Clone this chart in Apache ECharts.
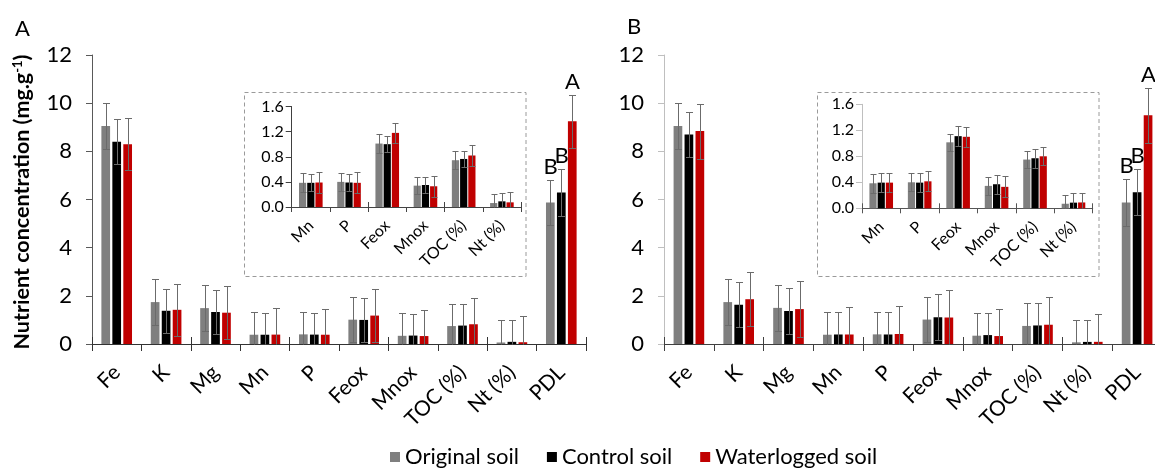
<!DOCTYPE html>
<html>
<head>
<meta charset="utf-8">
<script src="https://cdn.jsdelivr.net/npm/echarts@6/dist/echarts.min.js"></script>
<style>
  html, body { margin: 0; padding: 0; background: #ffffff; }
  #chart { width: 1155px; height: 468px; }
</style>
</head>
<body>
<div id="chart"></div>
<script>
// ---- data -------------------------------------------------------------
const categories = ['Fe', 'K', 'Mg', 'Mn', 'P', 'Feox', 'Mnox', 'TOC (%)', 'Nt (%)', 'PDL'];
const insetFrom = 3, insetTo = 9;               // Mn .. Nt (%) shown enlarged
const insetCategories = categories.slice(insetFrom, insetTo);
const seriesNames = ['Original soil', 'Control soil', 'Waterlogged soil'];
const mainTicks = { min: 0, max: 12, interval: 2 };
const insetTicks = { min: 0, max: 1.6, interval: 0.4 };

// Panel A: means (mg/g, % for TOC and Nt)
const aOriginal    = [9.05, 1.74, 1.49, 0.385, 0.40, 1.01, 0.34, 0.745, 0.063, 5.88];
const aControl     = [8.40, 1.38, 1.33, 0.385, 0.39, 1.00, 0.35, 0.765, 0.090, 6.29];
const aWaterlogged = [8.29, 1.42, 1.30, 0.390, 0.385, 1.18, 0.33, 0.820, 0.074, 9.25];
// Panel A: error bars of the full chart
const aErrOriginal    = [0.95, 0.95, 0.94, 0.93, 0.93, 0.93, 0.93, 0.93, 0.93, 0.95];
const aErrControl     = [0.93, 0.92, 0.91, 0.89, 0.91, 0.90, 0.88, 0.90, 0.89, 0.97];
const aErrWaterlogged = [1.08, 1.09, 1.09, 1.09, 1.08, 1.09, 1.08, 1.09, 1.10, 1.10];
// Panel A: error bars of the enlarged view (Mn .. Nt)
const aInsetErrOriginal    = [0.150, 0.140, 0.150, 0.140, 0.145, 0.137];
const aInsetErrControl     = [0.135, 0.130, 0.130, 0.125, 0.125, 0.130];
const aInsetErrWaterlogged = [0.160, 0.165, 0.160, 0.170, 0.160, 0.166];
const aLetters = [['', '', '', '', '', '', '', '', '', 'B'],
                  ['', '', '', '', '', '', '', '', '', 'B'],
                  ['', '', '', '', '', '', '', '', '', 'A']];

// Panel B
const bOriginal    = [9.05, 1.74, 1.50, 0.385, 0.400, 1.015, 0.345, 0.75, 0.070, 5.88];
const bControl     = [8.70, 1.63, 1.37, 0.395, 0.395, 1.110, 0.370, 0.77, 0.087, 6.30];
const bWaterlogged = [8.84, 1.86, 1.45, 0.395, 0.415, 1.100, 0.330, 0.80, 0.090, 9.50];
const bErrOriginal    = [0.95, 0.95, 0.94, 0.95, 0.94, 0.94, 0.95, 0.95, 0.94, 0.97];
const bErrControl     = [0.95, 0.93, 0.94, 0.94, 0.94, 0.95, 0.93, 0.93, 0.92, 0.95];
const bErrWaterlogged = [1.14, 1.12, 1.15, 1.14, 1.15, 1.15, 1.14, 1.14, 1.14, 1.14];
const bInsetErrOriginal    = [0.145, 0.140, 0.135, 0.135, 0.130, 0.140];
const bInsetErrControl     = [0.145, 0.145, 0.150, 0.150, 0.150, 0.148];
const bInsetErrWaterlogged = [0.145, 0.155, 0.150, 0.160, 0.140, 0.150];
const bLetters = [['', '', '', '', '', '', '', '', '', 'B'],
                  ['', '', '', '', '', '', '', '', '', 'B'],
                  ['', '', '', '', '', '', '', '', '', 'A']];

// ---- styling ------------------------------------------------------------
const FONT = 'Lato';
const colors = ['#7f7f7f', '#000000', '#c00000'];
const ERR_COLOR = '#6b6b6b';
const MAIN_BAR = { w: 8.7, gap: 2.3, cap: 7, barGap: '26%' };
const INSET_BAR = { w: 7.2, gap: 1.0, cap: 6, barGap: '14%' };

const chart = echarts.init(document.getElementById('chart'), null, { renderer: 'canvas' });

function xAxisPair(gridIndex, cats, lineColor, fontSize, margin, tickLen) {
  return [
    {
      type: 'category', gridIndex, data: cats, position: 'bottom',
      axisLine: { show: true, onZero: false, lineStyle: { color: lineColor, width: 1 } },
      axisTick: { show: true, length: tickLen, lineStyle: { color: lineColor } },
      axisLabel: { rotate: 45, interval: 0, fontSize, fontFamily: FONT, color: '#000', margin }
    },
    {
      type: 'category', gridIndex, data: cats, position: 'bottom',
      axisLine: { show: false },
      axisTick: { show: true, inside: true, length: tickLen, lineStyle: { color: lineColor } },
      axisLabel: { show: false }
    }
  ];
}

function yAxisDef(gridIndex, ticks, lineColor, fontSize, margin, decimals) {
  return {
    type: 'value', gridIndex, min: ticks.min, max: ticks.max, interval: ticks.interval,
    axisLine: { show: true, lineStyle: { color: lineColor, width: 1 } },
    axisTick: { show: true, length: 6, lineStyle: { color: lineColor } },
    splitLine: { show: false },
    axisLabel: {
      fontSize, fontFamily: FONT, color: '#000', margin,
      formatter: v => v.toFixed(decimals)
    }
  };
}

function barSeries(xi, yi, values, s, dims) {
  return {
    type: 'bar', name: seriesNames[s], xAxisIndex: xi, yAxisIndex: yi,
    data: values, barWidth: dims.w, barGap: dims.barGap,
    itemStyle: { color: colors[s] }, silent: true, z: 2
  };
}

function errorSeries(xi, yi, values, errs, s, dims, letters) {
  return {
    type: 'custom', xAxisIndex: xi, yAxisIndex: yi, z: 5, silent: true,
    data: values.map((m, i) => [i, m, errs[i]]),
    renderItem(params, api) {
      const i = api.value(0), m = api.value(1), e = api.value(2);
      const off = (s - 1) * (dims.w + dims.gap);
      const top = api.coord([i, m + e]);
      const bot = api.coord([i, Math.max(0, m - e)]);
      const x = Math.round(top[0] + off) + 0.5;
      const yT = Math.round(top[1]) + 0.5;
      const yB = Math.round(bot[1]) + 0.5;
      const c = dims.cap / 2;
      const st = { stroke: ERR_COLOR, lineWidth: 1 };
      const children = [
        { type: 'line', shape: { x1: x, y1: yT, x2: x, y2: yB }, style: st },
        { type: 'line', shape: { x1: x - c, y1: yT, x2: x + c, y2: yT }, style: st }
      ];
      if (m - e > 0) {
        children.push({ type: 'line', shape: { x1: x - c, y1: yB, x2: x + c, y2: yB }, style: st });
      }
      const letter = letters ? letters[s][params.dataIndex] : '';
      if (letter) {
        children.push({
          type: 'text',
          style: {
            text: letter, x: x, y: yT - 3, align: 'center', verticalAlign: 'bottom',
            fontSize: 22, fontFamily: FONT, fill: '#000'
          }
        });
      }
      return { type: 'group', children };
    }
  };
}

// grids: 0 = A full, 1 = A enlarged, 2 = B full, 3 = B enlarged
const grids = [
  { left: 92, top: 55, width: 494, height: 289 },
  { left: 291.7, top: 106.5, width: 229.3, height: 100.5 },
  { left: 664, top: 55, width: 498, height: 289 },
  { left: 862, top: 104.3, width: 230.7, height: 104 }
].map(g => Object.assign({ outerBoundsMode: 'none', containLabel: false }, g));

const xAxes = [
  ...xAxisPair(0, categories, '#333333', 21, 25, 7),
  ...xAxisPair(1, insetCategories, '#444444', 16, 16, 5),
  ...xAxisPair(2, categories, '#404040', 21, 25, 7),
  ...xAxisPair(3, insetCategories, '#555555', 16, 16, 5)
];
const yAxes = [
  yAxisDef(0, mainTicks, '#595959', 22, 20, 0),
  yAxisDef(1, insetTicks, '#404040', 16, 8, 1),
  yAxisDef(2, mainTicks, '#bfbfbf', 22, 20, 0),
  yAxisDef(3, insetTicks, '#bfbfbf', 16, 8, 1)
];

function panelSeries(xMain, yMain, xInset, yInset, means, errs, insetErrs, letters) {
  const out = [];
  means.forEach((vals, s) => {
    out.push(barSeries(xMain, yMain, vals, s, MAIN_BAR));
    out.push(barSeries(xInset, yInset, vals.slice(insetFrom, insetTo), s, INSET_BAR));
  });
  means.forEach((vals, s) => {
    out.push(errorSeries(xMain, yMain, vals, errs[s], s, MAIN_BAR, letters));
    out.push(errorSeries(xInset, yInset, vals.slice(insetFrom, insetTo), insetErrs[s], s, INSET_BAR, null));
  });
  return out;
}

const series = [
  ...panelSeries(0, 0, 2, 1,
    [aOriginal, aControl, aWaterlogged],
    [aErrOriginal, aErrControl, aErrWaterlogged],
    [aInsetErrOriginal, aInsetErrControl, aInsetErrWaterlogged], aLetters),
  ...panelSeries(4, 2, 6, 3,
    [bOriginal, bControl, bWaterlogged],
    [bErrOriginal, bErrControl, bErrWaterlogged],
    [bInsetErrOriginal, bInsetErrControl, bInsetErrWaterlogged], bLetters)
];

const dashed = { stroke: '#9a9a9a', lineWidth: 1, lineDash: [4, 3], fill: null };

chart.setOption({
  animation: false,
  backgroundColor: '#ffffff',
  grid: grids,
  xAxis: xAxes,
  yAxis: yAxes,
  series,
  legend: {
    data: seriesNames,
    left: 385, top: 441,
    icon: 'rect', itemWidth: 10, itemHeight: 10, itemGap: 28,
    textStyle: { fontSize: 22, fontFamily: FONT, color: '#000' },
    selectedMode: false
  },
  graphic: [
    { type: 'text', left: 15, top: 18, style: { text: 'A', fontSize: 22, fontFamily: FONT, fill: '#000' } },
    { type: 'text', left: 627, top: 16, style: { text: 'B', fontSize: 22, fontFamily: FONT, fill: '#000' } },
    { type: 'rect', shape: { x: 244.5, y: 92.5, width: 281.5, height: 184 }, style: dashed, silent: true },
    { type: 'rect', shape: { x: 817.5, y: 92.5, width: 281.5, height: 184 }, style: dashed, silent: true },
    {
      type: 'text', x: 22, y: 202, rotation: Math.PI / 2,
      style: {
        text: '{t|Nutrient concentration (mg.g}{s|-1}{t|)}',
        align: 'center', verticalAlign: 'middle',
        rich: {
          t: { fontSize: 21.5, fontWeight: 'bold', fontFamily: FONT, fill: '#000', verticalAlign: 'bottom' },
          s: { fontSize: 13, fontWeight: 'bold', fontFamily: FONT, fill: '#000', verticalAlign: 'bottom', padding: [0, 0, 9, 0] }
        }
      }
    }
  ]
});
</script>
</body>
</html>
